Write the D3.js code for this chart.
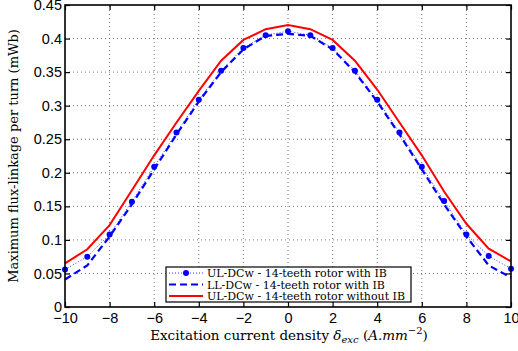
<!DOCTYPE html>
<html>
<head>
<meta charset="utf-8">
<script src="https://cdn.jsdelivr.net/npm/d3@7"></script>
<style>
  body { margin: 0; background: #fff; }
  svg { display: block; }
</style>
</head>
<body>
<div id="chart"></div>
<script>
// datos
const xs = [-10, -9, -8, -7, -6, -5, -4, -3, -2, -1, 0, 1, 2, 3, 4, 5, 6, 7, 8, 9, 10];
const ulWithIB = [0.056, 0.075, 0.108, 0.157, 0.209, 0.260, 0.309, 0.352, 0.386, 0.405, 0.411,
                  0.405, 0.386, 0.352, 0.309, 0.260, 0.209, 0.158, 0.108, 0.076, 0.057];
const llWithIB = [0.041, 0.062, 0.105, 0.153, 0.205, 0.257, 0.306, 0.350, 0.384, 0.404, 0.407,
                  0.404, 0.384, 0.350, 0.306, 0.257, 0.205, 0.153, 0.105, 0.062, 0.044];
const ulNoIB   = [0.065, 0.086, 0.122, 0.174, 0.226, 0.275, 0.322, 0.367, 0.398, 0.414, 0.420,
                  0.414, 0.398, 0.367, 0.324, 0.275, 0.226, 0.172, 0.124, 0.087, 0.068];
const xTicks = [-10, -8, -6, -4, -2, 0, 2, 4, 6, 8, 10];
const yTicks = [0, 0.05, 0.1, 0.15, 0.2, 0.25, 0.3, 0.35, 0.4, 0.45];
const legendLabels = [
  "UL-DCw - 14-teeth rotor with IB",
  "LL-DCw - 14-teeth rotor with IB",
  "UL-DCw - 14-teeth rotor without IB"
];

const W = 518, H = 351;
const M = { left: 65, right: 7, top: 5, bottom: 44 };
const SERIF = "'DejaVu Serif', 'Liberation Serif', serif";
const SANS = "'Liberation Sans', Arial, sans-serif";

const svg = d3.select("#chart").append("svg")
  .attr("width", W).attr("height", H);

const x = d3.scaleLinear().domain([-10, 10]).range([M.left, W - M.right]);
const y = d3.scaleLinear().domain([0, 0.45]).range([H - M.bottom, M.top]);

// rejilla punteada
const grid = svg.append("g").attr("stroke", "#555").attr("stroke-width", 0.8)
  .attr("stroke-dasharray", "1,3");
grid.selectAll(".gx").data(xTicks.slice(1, -1)).join("line")
  .attr("x1", d => x(d)).attr("x2", d => x(d))
  .attr("y1", y(0)).attr("y2", y(0.45));
grid.selectAll(".gy").data(yTicks.slice(1, -1)).join("line")
  .attr("y1", d => y(d)).attr("y2", d => y(d))
  .attr("x1", x(-10)).attr("x2", x(10));

// series
const pts = arr => xs.map((v, i) => [v, arr[i]]);
const line = d3.line().x(d => x(d[0])).y(d => y(d[1]));

svg.append("path").datum(pts(ulNoIB)).attr("d", line)
  .attr("fill", "none").attr("stroke", "#ff0000").attr("stroke-width", 2);
svg.append("path").datum(pts(llWithIB)).attr("d", line)
  .attr("fill", "none").attr("stroke", "#0000ff").attr("stroke-width", 2.2)
  .attr("stroke-dasharray", "7,4");
svg.append("path").datum(pts(ulWithIB)).attr("d", line)
  .attr("fill", "none").attr("stroke", "#0000ff").attr("stroke-width", 0.8)
  .attr("stroke-dasharray", "1,2");
svg.append("g").selectAll("circle").data(pts(ulWithIB)).join("circle")
  .attr("cx", d => x(d[0])).attr("cy", d => y(d[1])).attr("r", 3)
  .attr("fill", "#0000ff");

// ejes
const ax = svg.append("g");
const axBottom = ax.append("g").attr("transform", `translate(0,${y(0)})`)
  .call(d3.axisBottom(x).tickValues(xTicks).tickSize(-5).tickPadding(6)
    .tickFormat(d => d < 0 ? "\u2212" + Math.abs(d) : d));
const axTop = ax.append("g").attr("transform", `translate(0,${y(0.45)})`)
  .call(d3.axisTop(x).tickValues(xTicks).tickSize(-5).tickFormat(""));
const axLeft = ax.append("g").attr("transform", `translate(${x(-10)},0)`)
  .call(d3.axisLeft(y).tickValues(yTicks).tickSize(-5).tickPadding(3)
    .tickFormat(d => d === 0 ? "0" : d3.format("~g")(d)));
const axRight = ax.append("g").attr("transform", `translate(${x(10)},0)`)
  .call(d3.axisRight(y).tickValues(yTicks).tickSize(-5).tickFormat(""));
[axBottom, axTop, axLeft, axRight].forEach(g => {
  g.select(".domain").remove();
  g.selectAll(".tick line").attr("stroke", "#000").attr("stroke-width", 1.2);
  g.selectAll("text").attr("fill", "#000")
    .attr("font-family", SANS).attr("font-size", 14.5);
});
svg.append("rect").attr("x", x(-10)).attr("y", y(0.45))
  .attr("width", x(10) - x(-10)).attr("height", y(0) - y(0.45))
  .attr("fill", "none").attr("stroke", "#000").attr("stroke-width", 1.6);

// títulos
svg.append("text").attr("x", 289).attr("y", 340)
  .attr("text-anchor", "middle").attr("font-family", SERIF).attr("font-size", 13.5)
  .html("Excitation current density <tspan font-style='italic'>δ</tspan><tspan font-style='italic' font-size='10' dy='3'>exc</tspan><tspan dy='-3'> (</tspan><tspan font-style='italic'>A.mm</tspan><tspan font-size='10' dy='-6'>−2</tspan><tspan dy='6'>)</tspan>");
svg.append("text")
  .attr("transform", `translate(18,${(y(0) + y(0.45)) / 2}) rotate(-90)`)
  .attr("text-anchor", "middle").attr("font-family", SERIF).attr("font-size", 13)
  .text("Maximum flux-linkage per turn (mWb)");

// leyenda
const lg = svg.append("g").attr("transform", "translate(166,267)");
lg.append("rect").attr("width", 245).attr("height", 35)
  .attr("fill", "#fff").attr("stroke", "#000").attr("stroke-width", 1.2);
const styles = [
  { w: 0.8, dash: "1,2", dot: true },
  { w: 2.2, dash: "7,4", dot: false },
  { w: 2, dash: null, dot: false }
];
const colors = ["#0000ff", "#0000ff", "#ff0000"];
legendLabels.forEach((lab, i) => {
  const yy = 6 + i * 11.5;
  const s = styles[i];
  lg.append("line").attr("x1", 3).attr("x2", 37).attr("y1", yy).attr("y2", yy)
    .attr("stroke", colors[i]).attr("stroke-width", s.w)
    .attr("stroke-dasharray", s.dash);
  if (s.dot) lg.append("circle").attr("cx", 20).attr("cy", yy).attr("r", 3).attr("fill", colors[i]);
  lg.append("text").attr("x", 41).attr("y", yy + 4)
    .attr("font-family", SERIF).attr("font-size", 11).text(lab);
});
</script>
</body>
</html>
